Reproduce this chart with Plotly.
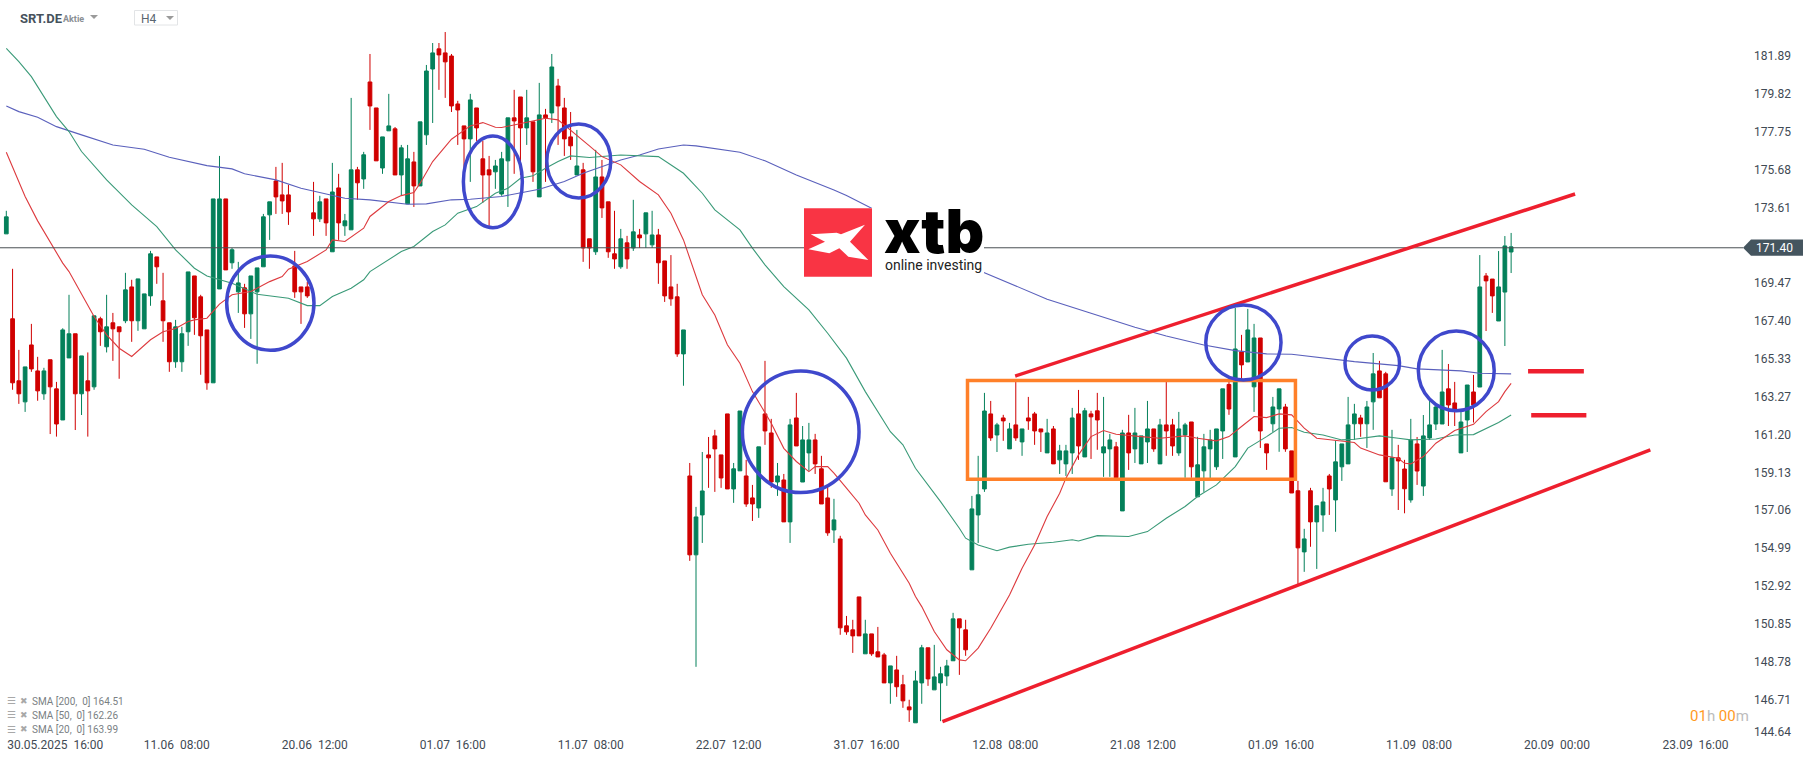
import plotly.graph_objects as go

# === Candles (H4) ===
open_ = [
    172.16, 167.52, 164.13, 162.98, 166.09, 164.67, 163.42, 165.28, 163.69, 161.99,
    165.38, 166.70, 163.42, 164.13, 163.80, 167.52, 165.99, 167.30, 167.08, 167.41,
    169.26, 167.41, 166.97, 168.77, 170.90, 168.50, 167.30, 165.17, 165.17, 166.81,
    169.86, 168.72, 166.91, 164.02, 169.15, 174.07, 170.58, 168.99, 169.21, 167.79,
    168.99, 170.36, 173.20, 175.05, 174.29, 174.29, 170.41, 169.26, 169.26, 173.31,
    172.98, 174.07, 171.18, 174.67, 172.60, 172.38, 175.66, 175.16, 180.46, 179.04,
    175.76, 177.79, 177.90, 175.38, 173.80, 176.09, 174.78, 177.57, 181.17, 182.27,
    182.05, 181.88, 179.26, 178.06, 177.35, 179.04, 176.26, 175.66, 175.55, 174.34,
    176.15, 178.50, 179.64, 177.95, 178.28, 174.18, 178.66, 178.77, 180.24, 179.04,
    177.46, 175.38, 175.66, 171.89, 171.18, 175.27, 173.91, 171.07, 170.36, 171.67,
    171.39, 172.10, 172.16, 171.56, 172.10, 170.68, 169.26, 168.72, 165.60, 158.93,
    154.62, 156.80, 160.08, 161.12, 160.08, 162.32, 158.22, 159.21, 158.93, 157.73,
    157.18, 162.32, 161.28, 158.60, 158.71, 156.42, 162.10, 158.60, 160.19, 160.90,
    159.32, 157.73, 155.98, 155.49, 150.74, 150.52, 152.32, 149.21, 150.30, 149.32,
    149.15, 147.62, 148.33, 147.52, 146.31, 145.44, 147.62, 149.54, 147.24, 147.62,
    148.00, 148.83, 151.12, 150.52, 153.80, 156.80, 158.22, 162.32, 161.17, 162.10,
    160.41, 161.72, 160.79, 162.10, 162.32, 161.50, 160.19, 161.50, 159.81, 159.59,
    160.19, 162.32, 159.97, 162.32, 162.49, 160.19, 160.41, 160.52, 157.02, 161.28,
    160.41, 159.59, 160.79, 161.50, 159.59, 161.72, 161.72, 160.19, 161.17, 161.88,
    157.79, 159.21, 160.41, 159.43, 161.39, 163.93, 159.97, 165.71, 165.16, 163.80,
    166.47, 160.68, 161.78, 162.59, 162.70, 160.30, 158.12, 154.78, 158.12, 156.42,
    156.80, 158.93, 157.62, 159.43, 159.59, 161.78, 162.10, 161.78, 162.98, 164.67,
    164.51, 158.22, 159.92, 159.31, 157.62, 160.68, 158.38, 161.01, 161.77, 161.77,
    163.69, 162.92, 160.19, 161.99, 163.52, 163.79, 169.86, 169.69, 167.40, 168.98,
    171.17]
high = [
    173.42, 170.25, 165.82, 164.89, 167.24, 165.44, 164.84, 165.28, 164.07, 167.00,
    168.83, 166.70, 165.49, 165.68, 167.68, 167.63, 168.83, 167.84, 167.08, 170.03,
    169.65, 169.70, 168.88, 171.23, 170.90, 170.03, 167.30, 167.46, 167.08, 170.08,
    169.86, 168.83, 166.91, 174.07, 176.42, 174.07, 171.39, 170.63, 169.43, 169.86,
    170.30, 173.25, 173.91, 175.82, 176.04, 174.84, 171.23, 169.26, 169.54, 175.00,
    174.24, 174.07, 176.04, 175.44, 173.25, 179.59, 175.82, 176.64, 181.99, 179.04,
    177.46, 179.81, 178.00, 177.02, 177.02, 176.64, 178.28, 181.39, 182.59, 182.59,
    183.19, 181.99, 179.43, 178.06, 179.81, 179.04, 177.24, 176.42, 176.20, 176.64,
    178.50, 180.03, 179.64, 180.03, 178.28, 180.41, 178.99, 181.99, 180.63, 179.59,
    178.82, 177.84, 176.04, 171.89, 176.75, 176.20, 173.91, 173.42, 172.43, 172.05,
    174.02, 172.43, 173.31, 173.42, 172.43, 170.68, 171.00, 169.43, 166.91, 159.64,
    157.24, 160.24, 161.06, 161.45, 160.08, 162.32, 159.64, 162.48, 159.81, 158.44,
    160.52, 165.22, 162.05, 159.64, 159.04, 162.05, 163.47, 161.66, 161.83, 161.23,
    160.03, 158.33, 157.68, 155.66, 151.28, 151.07, 152.32, 151.07, 150.30, 150.68,
    149.26, 148.55, 149.10, 148.06, 146.70, 148.28, 149.70, 149.54, 149.70, 148.50,
    148.88, 151.45, 151.12, 151.07, 157.84, 160.03, 163.47, 163.03, 161.83, 162.27,
    161.83, 164.07, 161.50, 163.25, 162.43, 161.50, 162.05, 161.66, 160.63, 160.63,
    162.65, 163.63, 162.65, 162.49, 163.47, 163.25, 161.23, 160.79, 161.45, 162.27,
    162.65, 161.12, 163.03, 161.50, 162.05, 164.07, 162.05, 162.43, 161.83, 161.88,
    161.07, 161.23, 161.45, 161.50, 163.69, 164.07, 168.11, 166.64, 168.06, 167.24,
    166.47, 160.68, 163.25, 163.69, 162.87, 160.30, 158.66, 156.04, 158.28, 157.30,
    158.28, 159.04, 160.85, 160.68, 163.25, 162.87, 162.27, 163.03, 165.65, 165.22,
    164.62, 161.45, 160.63, 159.81, 162.05, 161.06, 162.26, 163.08, 162.81, 165.82,
    165.05, 164.07, 162.43, 163.90, 164.45, 171.00, 170.02, 169.69, 171.22, 172.04,
    172.21]
low = [
    172.16, 163.64, 162.87, 162.43, 164.62, 163.04, 163.09, 161.22, 161.08, 161.99,
    165.38, 161.44, 162.26, 161.08, 163.64, 166.04, 165.68, 165.22, 164.24, 167.28,
    166.26, 166.86, 166.97, 168.23, 169.43, 166.26, 164.62, 164.84, 164.62, 166.04,
    166.64, 164.46, 163.64, 164.02, 169.15, 170.19, 170.25, 167.84, 167.02, 166.42,
    165.06, 170.36, 171.83, 173.25, 173.25, 172.65, 168.66, 167.24, 168.66, 172.05,
    172.81, 172.05, 171.18, 171.83, 172.05, 172.38, 174.02, 174.62, 177.84, 176.15,
    175.44, 177.79, 175.38, 174.24, 173.80, 173.63, 174.78, 177.02, 178.22, 180.03,
    179.59, 178.82, 177.02, 175.29, 175.00, 177.24, 173.85, 172.60, 174.62, 174.24,
    173.63, 175.44, 175.38, 177.02, 175.00, 174.18, 175.00, 178.22, 177.02, 176.42,
    176.20, 175.38, 170.63, 170.25, 171.01, 173.03, 170.85, 170.25, 170.25, 170.25,
    171.23, 171.39, 171.39, 171.39, 169.43, 168.44, 168.23, 165.44, 163.86, 154.29,
    148.50, 155.27, 158.28, 158.06, 158.28, 158.22, 157.46, 159.21, 157.24, 156.47,
    156.64, 160.63, 158.28, 157.84, 156.42, 155.27, 160.57, 158.60, 159.21, 159.04,
    157.40, 155.66, 155.27, 150.25, 150.25, 149.26, 150.19, 149.21, 149.10, 149.04,
    147.62, 146.48, 146.86, 146.26, 145.49, 145.44, 146.48, 147.46, 147.24, 145.53,
    147.46, 148.83, 148.06, 149.10, 153.80, 155.27, 158.06, 160.85, 160.24, 160.85,
    160.41, 160.85, 160.03, 161.45, 160.63, 160.24, 160.19, 159.59, 159.04, 158.93,
    159.04, 159.81, 159.97, 159.86, 160.36, 158.88, 158.88, 158.83, 157.02, 159.26,
    159.64, 159.59, 159.64, 160.25, 159.59, 160.03, 160.03, 160.03, 158.83, 158.83,
    157.79, 158.06, 158.72, 159.26, 159.86, 162.27, 159.97, 164.23, 165.16, 162.43,
    160.46, 159.26, 161.34, 160.25, 160.25, 158.00, 153.03, 153.69, 155.06, 153.85,
    155.88, 156.80, 155.88, 158.66, 159.59, 160.90, 161.07, 160.46, 161.45, 163.20,
    158.61, 157.84, 157.07, 156.89, 157.47, 158.44, 157.84, 160.90, 161.44, 161.77,
    161.66, 161.66, 160.19, 160.24, 161.85, 163.79, 166.85, 167.84, 167.40, 166.03,
    170.02]
close = [
    173.09, 164.02, 163.42, 164.89, 164.78, 163.58, 164.67, 163.80, 161.77, 166.91,
    166.70, 163.42, 165.49, 163.58, 167.68, 166.81, 167.08, 166.97, 166.81, 169.10,
    167.41, 169.70, 168.88, 171.07, 170.36, 167.41, 165.17, 167.08, 166.70, 170.08,
    167.57, 166.59, 164.02, 174.07, 174.07, 170.19, 171.29, 169.48, 167.79, 169.86,
    170.30, 173.09, 173.91, 174.18, 173.96, 173.36, 168.99, 168.99, 168.77, 172.98,
    173.91, 172.76, 174.45, 172.76, 172.87, 175.66, 174.95, 176.48, 179.15, 176.15,
    177.46, 178.06, 175.38, 176.86, 176.26, 174.78, 178.28, 181.06, 182.05, 181.94,
    181.56, 179.15, 178.93, 177.35, 179.48, 177.95, 175.38, 175.38, 175.87, 176.26,
    178.50, 178.33, 177.95, 178.50, 175.55, 178.66, 178.50, 181.28, 179.15, 177.35,
    176.97, 175.87, 171.39, 171.39, 175.27, 173.58, 171.18, 170.79, 171.89, 170.79,
    172.27, 171.94, 173.31, 172.10, 170.58, 168.77, 168.61, 165.60, 166.91, 154.62,
    156.69, 158.11, 159.92, 160.41, 158.82, 158.22, 159.32, 162.48, 157.40, 157.40,
    160.52, 161.39, 158.60, 158.93, 156.42, 161.72, 160.57, 160.90, 160.90, 159.59,
    157.40, 155.82, 156.53, 150.63, 150.41, 150.19, 150.19, 150.30, 149.21, 149.04,
    147.62, 148.55, 147.41, 146.64, 146.15, 147.73, 149.54, 147.84, 147.95, 148.12,
    148.55, 151.12, 150.63, 149.43, 157.13, 157.90, 162.48, 161.01, 161.72, 161.94,
    161.50, 161.01, 161.50, 161.94, 161.39, 161.34, 161.28, 159.59, 160.30, 160.30,
    162.10, 160.57, 162.49, 162.16, 161.99, 160.52, 160.90, 158.83, 161.28, 160.19,
    161.28, 161.12, 161.50, 160.41, 161.72, 161.39, 160.57, 161.50, 161.72, 159.43,
    159.54, 160.52, 160.90, 161.50, 163.69, 162.59, 165.87, 165.00, 166.91, 166.47,
    161.39, 160.19, 162.70, 163.69, 160.41, 158.00, 155.00, 155.49, 156.42, 157.30,
    157.51, 158.22, 159.70, 160.68, 161.72, 162.32, 161.78, 162.70, 164.51, 163.20,
    158.61, 159.92, 159.75, 158.23, 160.90, 159.20, 161.12, 161.72, 162.70, 163.52,
    162.81, 162.54, 161.88, 163.90, 162.81, 169.26, 169.59, 168.77, 169.26, 171.50,
    171.45]
candle_x = list(range(len(close)))

# === Moving averages, read at the candles where the line bends ===
sma20_x = [0, 3, 5, 7, 9, 10, 12, 14, 16, 18, 20, 23, 25, 27, 29, 30, 32, 34, 36, 39,
           42, 44, 45, 48, 51, 52, 54, 57, 58, 61, 63, 65, 66, 68, 71, 74, 76, 78, 79, 83,
           86, 88, 90, 93, 95, 98, 101, 104, 106, 108, 111, 113, 115, 117, 119, 122, 124, 126, 128, 129,
           131, 132, 134, 136, 137, 139, 141, 144, 145, 146, 148, 150, 152, 153, 155, 157, 160, 162, 164, 166,
           168, 169, 171, 173, 175, 177, 181, 184, 188, 190, 193, 195, 197, 199, 201, 203, 205, 207, 209, 215,
           216, 219, 222, 223, 224, 226, 228, 231, 234, 236, 238, 239, 240]
sma20_v = [176.62, 174.20, 172.87, 171.74, 170.56, 170.10, 168.83, 167.64, 166.64, 165.91,
           165.46, 166.37, 166.81, 166.99, 167.37, 167.46, 167.55, 168.32, 168.83, 169.01,
           169.55, 169.83, 170.23, 170.65, 171.28, 171.83, 171.74, 172.47, 173.11, 173.93,
           174.25, 174.42, 174.93, 176.11, 177.33, 178.06, 178.24, 177.99, 177.97, 178.26,
           178.48, 178.39, 177.84, 176.97, 176.38, 175.93, 175.02, 174.29, 173.29, 171.83,
           168.83, 167.73, 166.10, 165.09, 163.54, 161.81, 160.44, 159.72, 159.17, 159.44,
           159.44, 159.08, 158.26, 157.44, 156.80, 155.98, 154.71, 153.07, 152.34, 151.79,
           150.43, 149.43, 148.88, 148.83, 149.52, 150.61, 152.43, 153.89, 155.16, 156.71,
           157.99, 158.81, 160.08, 161.08, 161.41, 161.21, 161.08, 160.99, 161.12, 160.99,
           160.85, 161.08, 161.63, 162.18, 162.12, 162.32, 162.27, 161.54, 160.99, 160.76,
           160.45, 160.08, 159.90, 159.62, 159.59, 159.99, 160.72, 161.41, 161.75, 162.45,
           162.99, 163.54, 163.99]
sma50_x = [0, 2, 4, 6, 8, 10, 12, 16, 20, 24, 27, 30, 32, 36, 40, 45, 48, 50, 52, 55,
           57, 58, 61, 63, 65, 68, 70, 72, 75, 78, 80, 82, 84, 86, 88, 90, 93, 98, 104, 106,
           108, 111, 113, 117, 119, 121, 124, 128, 131, 134, 137, 141, 143, 145, 146, 149, 152, 153, 155, 158,
           160, 163, 167, 170, 171, 174, 179, 182, 185, 188, 190, 193, 196, 198, 201, 203, 205, 207, 210, 213,
           215, 219, 222, 224, 228, 231, 234, 236, 238, 240]
sma50_v = [182.30, 181.57, 180.75, 179.66, 178.57, 177.75, 176.66, 175.11, 173.74, 172.56,
           171.29, 170.28, 169.86, 169.46, 168.86, 168.64, 168.24, 168.24, 168.74, 169.19,
           169.65, 170.10, 170.74, 171.19, 171.47, 172.29, 172.65, 173.29, 173.65, 174.38,
           174.65, 175.20, 175.33, 175.75, 176.11, 176.42, 176.33, 176.47, 176.38, 175.93,
           175.47, 174.38, 173.47, 172.38, 171.38, 170.47, 169.28, 168.01, 166.73, 165.37,
           163.54, 161.35, 160.63, 159.35, 158.90, 157.53, 156.07, 155.53, 155.16, 154.84,
           155.04, 155.20, 155.31, 155.44, 155.38, 155.67, 155.62, 155.89, 156.62, 157.26,
           157.81, 158.44, 159.44, 160.45, 161.08, 161.54, 161.58, 161.32, 161.17, 160.90,
           160.94, 161.12, 160.99, 160.90, 160.95, 161.17, 161.19, 161.54, 161.85, 162.26]
sma200_x = [0, 2, 5, 8, 12, 17, 22, 26, 32, 36, 38, 43, 47, 50, 54, 58, 61, 64, 67, 71,
            74, 79, 85, 89, 92, 95, 98, 101, 104, 108, 110, 117, 121, 126, 128, 132, 134, 138, 156, 160,
            166, 173, 180, 185, 191, 196, 201, 205, 210, 215, 222, 225, 232, 235, 240]
sma200_v = [179.15, 178.84, 178.53, 178.02, 177.57, 177.02, 176.78, 176.35, 175.89, 175.71,
            175.44, 175.11, 174.65, 174.42, 174.11, 174.02, 173.89, 173.78, 173.80, 174.02,
            174.05, 174.20, 174.60, 175.02, 175.47, 175.84, 176.20, 176.47, 176.80, 177.02,
            176.97, 176.62, 176.15, 175.38, 175.11, 174.56, 174.25, 173.56, 170.04, 169.46,
            168.59, 167.82, 167.06, 166.58, 166.09, 165.78, 165.60, 165.58, 165.36, 165.18,
            164.96, 164.78, 164.67, 164.54, 164.51]

# === Axis labels ===
price_now = 171.40
ytick_vals = [181.89, 179.82, 177.75, 175.68, 173.61, 169.47, 167.40, 165.33, 163.27, 161.20,
              159.13, 157.06, 154.99, 152.92, 150.85, 148.78, 146.71, 144.96]
ytick_text = ["181.89", "179.82", "177.75", "175.68", "173.61", "169.47", "167.40", "165.33", "163.27", "161.20",
              "159.13", "157.06", "154.99", "152.92", "150.85", "148.78", "146.71", "144.64"]
xtick_vals = [7.8, 27.2, 49.2, 71.2, 93.2, 115.2, 137.2, 159.3, 181.3, 203.3, 225.3, 247.3, 269.4]
xtick_text = ["30.05.2025\u00a0\u00a016:00", "11.06\u00a0\u00a008:00", "20.06\u00a0\u00a012:00", "01.07\u00a0\u00a016:00",
              "11.07\u00a0\u00a008:00", "22.07\u00a0\u00a012:00", "31.07\u00a0\u00a016:00", "12.08\u00a0\u00a008:00",
              "21.08\u00a0\u00a012:00", "01.09\u00a0\u00a016:00", "11.09\u00a0\u00a008:00", "20.09\u00a0\u00a000:00",
              "23.09\u00a0\u00a016:00"]
legend_rows = ["SMA [200,\u00a0\u00a00] 164.51", "SMA [50,\u00a0\u00a00] 162.26", "SMA [20,\u00a0\u00a00] 163.99"]

# === Hand drawings on the chart: x0, y0, x1, y1 in candles and price ===
trend_lines = [(160.9, 164.39, 250.2, 174.34), (149.3, 145.50, 262.2, 160.35)]
level_marks = [(242.7, 164.65, 251.6, 164.65), (243.2, 162.25, 252.0, 162.25)]
box_orange = (153.3, 158.75, 205.6, 164.14)
circles = [(35.15, 165.80, 49.07, 170.95), (72.9, 172.50, 82.3, 177.51), (86.2, 174.12, 96.4, 178.16),
           (117.4, 158.02, 136.0, 164.67), (191.3, 164.18, 203.3, 168.27), (213.5, 163.63, 222.2, 166.58),
           (225.2, 162.50, 237.3, 166.85)]

W, H = 1815, 761
PLOT_R, PLOT_B = 1743, 738
FONT = "Roboto"
TXT = "#3f4a54"


def px(x):
    return x / PLOT_R


def py(y):
    return (PLOT_B - y) / PLOT_B


def poly(points):
    return "M" + " L".join(f"{px(x):.5f},{py(y):.5f}" for x, y in points) + " Z"


def label(x, y, text, size=12, color=TXT, anchor="left", weight=None, family=FONT):
    return dict(xref="paper", yref="paper", x=px(x), y=py(y), text=text, showarrow=False,
                xanchor=anchor, yanchor="middle", borderpad=0,
                font=dict(family=family, size=size, color=color, weight=weight))


fig = go.Figure()

fig.add_trace(go.Candlestick(
    x=candle_x, open=open_, high=high, low=low, close=close,
    increasing=dict(line=dict(color="#04805a", width=1), fillcolor="#04805a"),
    decreasing=dict(line=dict(color="#d00000", width=1), fillcolor="#d00000"),
    hoverinfo="skip", showlegend=False))
fig.add_trace(go.Scatter(x=sma200_x, y=sma200_v, mode="lines", line=dict(color="#5a60bc", width=1.1),
                         hoverinfo="skip", showlegend=False))
fig.add_trace(go.Scatter(x=sma50_x, y=sma50_v, mode="lines", line=dict(color="#3a9a78", width=1.1),
                         hoverinfo="skip", showlegend=False))
fig.add_trace(go.Scatter(x=sma20_x, y=sma20_v, mode="lines", line=dict(color="#dd3a3e", width=1.1),
                         hoverinfo="skip", showlegend=False))

shapes = []
# current price line
shapes.append(dict(type="line", xref="paper", yref="y", x0=0, x1=1, y0=price_now, y1=price_now,
                   line=dict(color="#4a5054", width=1)))
for x0, y0, x1, y1 in trend_lines:
    shapes.append(dict(type="line", x0=x0, y0=y0, x1=x1, y1=y1, line=dict(color="#ee1f2e", width=3.5)))
for x0, y0, x1, y1 in level_marks:
    shapes.append(dict(type="line", x0=x0, y0=y0, x1=x1, y1=y1, line=dict(color="#ee1f2e", width=4.5)))
shapes.append(dict(type="rect", x0=box_orange[0], y0=box_orange[1], x1=box_orange[2], y1=box_orange[3],
                   line=dict(color="#ff8029", width=3.5)))
for x0, y0, x1, y1 in circles:
    shapes.append(dict(type="circle", x0=x0, y0=y0, x1=x1, y1=y1, line=dict(color="#3f48cc", width=3.5)))

# xtb logo, white plate covers the lines behind it
shapes.append(dict(type="rect", xref="paper", yref="paper", x0=px(804), x1=px(984), y0=py(277), y1=py(208),
                   fillcolor="white", line=dict(width=0)))
shapes.append(dict(type="rect", xref="paper", yref="paper", x0=px(804), x1=px(872), y0=py(276.7), y1=py(208.3),
                   fillcolor="#f93444", line=dict(width=0)))
star = [(92, 133), (170, 128), (183, 133), (255, 104), (210, 155), (265, 210), (205, 200),
        (178, 175), (148, 190), (85, 178), (135, 155)]
shapes.append(dict(type="path", xref="paper", yref="paper", fillcolor="white", line=dict(width=0),
                   path=poly([(780 + a / 3, 190 + b / 3) for a, b in star])))

# price tag on the axis
shapes.append(dict(type="path", xref="paper", yref="paper", fillcolor="#45555f", line=dict(width=0),
                   path=poly([(1743, 247.7), (1751, 239.5), (1803, 239.5), (1803, 255.7), (1751, 255.7)])))

# header controls
shapes.append(dict(type="path", xref="paper", yref="paper", fillcolor="#9a9a9a", line=dict(width=0),
                   path=poly([(90, 15), (98, 15), (94, 19)])))
shapes.append(dict(type="rect", xref="paper", yref="paper", x0=px(134.5), x1=px(177.5), y0=py(25), y1=py(10.5),
                   fillcolor="white", line=dict(color="#e2e4e6", width=1)))
shapes.append(dict(type="path", xref="paper", yref="paper", fillcolor="#9a9a9a", line=dict(width=0),
                   path=poly([(166, 16), (174, 16), (170, 20)])))

annotations = [
    label(19, 18.5, "<b>SRT.DE</b>", size=13, color="#46525c"),
    label(62, 19.5, "<b>Aktie</b>", size=9, color="#8a8f94"),
    label(140, 19.5, "H4", size=12, color="#5a6670"),
    label(883, 231, "xtb", size=60, color="#000000", weight=900, family="Inter"),
    label(884, 265, "online investing", size=14, color="#222222", family="Roboto"),
    label(1755, 248.3, "171.40", size=12, color="white"),
    label(1689, 716, '<span style="color:#ff9a1f">01</span>h <span style="color:#ff9a1f">00</span>m',
          size=15, color="#bcbcbc"),
]
for row, txt in zip((700.7, 714.7, 729), legend_rows):
    annotations.append(label(6, row, "\u2630", size=10, color="#a8a8a8", family="DejaVu Sans"))
    annotations.append(label(19, row, "\u2716", size=9, color="#a8a8a8", family="DejaVu Sans"))
    annotations.append(label(31, row + 0.5, txt, size=10, color="#7a7f84"))

fig.update_layout(
    width=W, height=H, margin=dict(l=0, r=W - PLOT_R, t=0, b=H - PLOT_B),
    paper_bgcolor="white", plot_bgcolor="white", boxgap=0.15,
    font=dict(family=FONT, size=12, color=TXT),
    shapes=shapes, annotations=annotations,
    xaxis=dict(range=[-1.005, 276.98], rangeslider=dict(visible=False), showgrid=False, zeroline=False,
               showline=False, ticks="", tickmode="array", tickvals=xtick_vals, ticktext=xtick_text,
               tickangle=0, ticklabelstandoff=-2, tickfont=dict(family=FONT, size=12, color=TXT)),
    yaxis=dict(range=[144.61, 184.94], side="right", showgrid=False, zeroline=False, showline=False,
               ticks="", tickmode="array", tickvals=ytick_vals, ticktext=ytick_text,
               ticklabelstandoff=10, tickfont=dict(family=FONT, size=12, color=TXT)),
)

fig.write_html("out.html", config=dict(displayModeBar=False), post_script="document.body.style.margin='0';")
